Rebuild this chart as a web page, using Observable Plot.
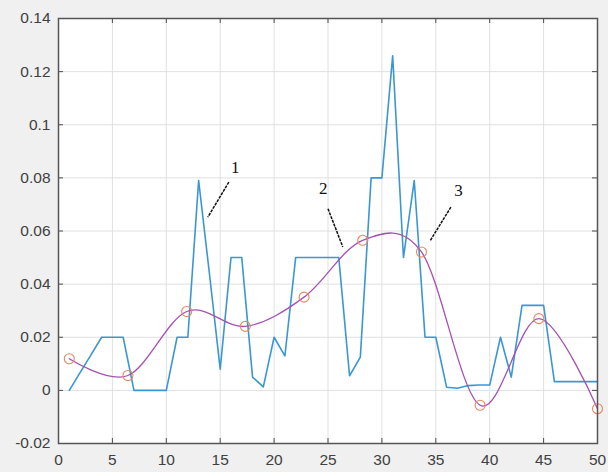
<!DOCTYPE html>
<html>
<head>
<meta charset="utf-8">
<script src="https://cdn.jsdelivr.net/npm/d3@7"></script>
<script src="https://cdn.jsdelivr.net/npm/@observablehq/plot@0.6"></script>
<style>
  html, body { margin: 0; padding: 0; background: #f0f0f0; }
  #chart { width: 608px; height: 472px; }
</style>
</head>
<body>
<div id="chart"></div>
<script>
// Raw signal, one sample per index
const sampleIndex = [1,2,3,4,5,6,7,8,9,10,11,12,13,14,15,16,17,18,19,20,21,22,23,24,25,
  26,27,28,29,30,31,32,33,34,35,36,37,38,39,40,41,42,43,44,45,46,47,48,49,50];
const sampleValue = [0,0.0067,0.0133,0.02,0.02,0.02,0,0,0,0,0.02,0.02,0.079,0.044,0.008,
  0.05,0.05,0.005,0.0013,0.02,0.013,0.05,0.05,0.05,0.05,0.05,0.0055,0.0125,0.08,0.08,
  0.126,0.05,0.079,0.02,0.02,0.0012,0.0008,0.0018,0.002,0.002,0.02,0.005,0.032,0.032,0.032,
  0.0033,0.0033,0.0033,0.0033,0.0033];

// Knots of the smoothed curve
const knotX = [1, 6.44, 11.89, 17.33, 22.78, 28.22, 33.67, 39.11, 44.56, 50];
const knotY = [0.0119, 0.0056, 0.0297, 0.0241, 0.0351, 0.0565, 0.0521, -0.0056, 0.027, -0.0069];

// Callout labels and their leader lines
const calloutText = ["1", "2", "3"];
const calloutTextX = [16.4, 24.55, 37.1];
const calloutTextY = [0.084, 0.0759, 0.0753];
const leaderX1 = [15.8, 25.0, 36.4];
const leaderY1 = [0.0784, 0.0684, 0.069];
const leaderX2 = [13.85, 26.37, 34.5];
const leaderY2 = [0.0652, 0.054, 0.0565];

// Axis ticks
const xTicks = [0, 5, 10, 15, 20, 25, 30, 35, 40, 45, 50];
const yTicks = [-0.02, 0, 0.02, 0.04, 0.06, 0.08, 0.1, 0.12, 0.14];
const yTickLabels = ["-0.02", "0", "0.02", "0.04", "0.06", "0.08", "0.1", "0.12", "0.14"];

const signal = sampleIndex.map((x, i) => ({x, y: sampleValue[i]}));
const knots = knotX.map((x, i) => ({x, y: knotY[i]}));
const callouts = calloutText.map((t, i) => ({
  t, tx: calloutTextX[i], ty: calloutTextY[i],
  x1: leaderX1[i], y1: leaderY1[i], x2: leaderX2[i], y2: leaderY2[i]
}));

const W = 608, H = 472;
const mL = 58, mR = 11, mT = 18, mB = 29;
const innerW = W - mL - mR, innerH = H - mT - mB;
const tickLen = 5;
const labelFont = {fontFamily: "Liberation Sans, Arial, sans-serif", fontSize: 15.5};

const chart = Plot.plot({
  width: W,
  height: H,
  marginLeft: mL,
  marginRight: mR,
  marginTop: mT,
  marginBottom: mB,
  style: {background: "#f0f0f0", color: "#404040", overflow: "visible"},
  x: {domain: [0, 50]},
  y: {domain: [-0.02, 0.14]},
  marks: [
    Plot.frame({fill: "white", stroke: "none"}),
    Plot.gridX(xTicks, {stroke: "#e0e0e0", strokeOpacity: 1, strokeWidth: 1}),
    Plot.gridY(yTicks, {stroke: "#e0e0e0", strokeOpacity: 1, strokeWidth: 1}),
    Plot.line(signal, {x: "x", y: "y", stroke: "#3b97d3", strokeWidth: 1.6}),
    Plot.line(knots, {x: "x", y: "y", curve: "cardinal", tension: 0, stroke: "#a451b3", strokeWidth: 1.3}),
    Plot.dot(knots, {x: "x", y: "y", r: 5, stroke: "#e8875e", strokeWidth: 1.1, fill: "none"}),
    Plot.link(callouts, {x1: "x1", y1: "y1", x2: "x2", y2: "y2", stroke: "#111", strokeWidth: 1.5, strokeDasharray: "3,1"}),
    Plot.text(callouts, {x: "tx", y: "ty", text: "t", fill: "#111",
      fontFamily: "Liberation Serif, Times New Roman, serif", fontSize: 17}),
    // inward tick marks on all four sides
    Plot.tickX(xTicks, {x: d => d, insetTop: innerH - tickLen, stroke: "#4d4d4d"}),
    Plot.tickX(xTicks, {x: d => d, insetBottom: innerH - tickLen, stroke: "#4d4d4d"}),
    Plot.tickY(yTicks, {y: d => d, insetRight: innerW - tickLen, stroke: "#4d4d4d"}),
    Plot.tickY(yTicks, {y: d => d, insetLeft: innerW - tickLen, stroke: "#4d4d4d"}),
    Plot.frame({stroke: "#555", strokeWidth: 1.5}),
    Plot.axisX({ticks: xTicks, tickSize: 0, tickPadding: 10, ...labelFont, fill: "#404040", label: null}),
    Plot.axisY({ticks: yTicks, tickSize: 0, tickPadding: 8, ...labelFont, fill: "#404040", label: null,
      tickFormat: d => yTickLabels[yTicks.indexOf(d)]})
  ]
});

document.getElementById("chart").appendChild(chart);
</script>
</body>
</html>
